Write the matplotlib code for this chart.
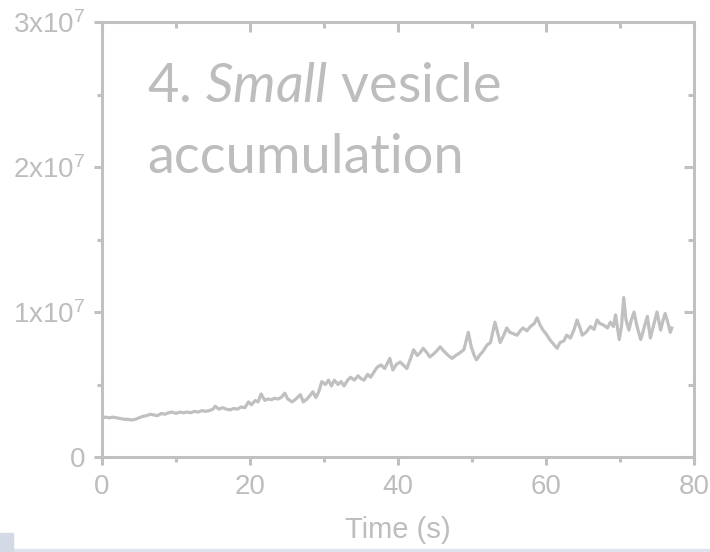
import matplotlib
matplotlib.use("Agg")
import matplotlib.pyplot as plt
from matplotlib.patches import Rectangle
from matplotlib.ticker import MultipleLocator, FuncFormatter

GREY = "#c0c0c0"
TEXT_GREY = "#bdbdbd"

# fluorescence trace, time in s, intensity in units of 1e6
time_s = [
    0, 0.5, 1, 1.5, 2, 2.5, 3, 3.5, 4, 4.5, 5, 5.5, 6, 6.5, 7, 7.5, 8, 8.5, 9, 9.5,
    10, 10.5, 11, 11.5, 12, 12.5, 13, 13.5, 14, 14.5, 15, 15.3, 15.8, 16.3, 16.8,
    17.3, 17.8, 18.3, 18.8, 19.3, 19.8, 20.2, 20.7, 21.1, 21.5, 22, 22.4, 22.9,
    23.3, 23.8, 24.2, 24.7, 25.1, 25.7, 26.2, 26.8, 27.2, 27.7, 28.2, 28.5, 28.9,
    29.3, 29.7, 30.2, 30.6, 31.0, 31.4, 31.9, 32.3, 32.7, 33.2, 33.6, 34.1, 34.6,
    35.0, 35.4, 35.9, 36.3, 36.8, 37.2, 37.7, 38.2, 38.6, 38.9, 39.3, 39.8, 40.3,
    40.8, 41.2, 41.7, 42.1, 42.6, 43.0, 43.4, 43.9, 44.3, 44.8, 45.2, 45.7, 46.2,
    46.8, 47.3, 47.8, 48.4, 48.9, 49.2, 49.5, 49.9, 50.3, 50.6, 51.0, 51.5, 52.0,
    52.5, 53.1, 53.5, 53.8, 54.2, 54.7, 55.1, 55.6, 56.1, 56.5, 56.9, 57.4, 57.9,
    58.4, 58.8, 59.2, 59.6, 60.0, 60.5, 61.0, 61.5, 61.9, 62.4, 62.8, 63.3, 63.8,
    64.2, 64.6, 64.9, 65.4, 66.0, 66.5, 66.9, 67.3, 67.8, 68.3, 68.7, 69.1, 69.4,
    69.9, 70.2, 70.5, 70.8, 71.2, 71.5, 71.9, 72.3, 72.8, 73.2, 73.7, 74.1, 74.6,
    75.0, 75.5, 75.8, 76.1, 76.5, 76.8, 77.0,
]
intensity = [
    2.7, 2.75, 2.7, 2.75, 2.7, 2.65, 2.6, 2.6, 2.55, 2.6, 2.7, 2.8, 2.85, 2.95, 2.9,
    2.85, 3.0, 2.95, 3.05, 3.1, 3.0, 3.1, 3.05, 3.1, 3.05, 3.15, 3.1, 3.2, 3.15, 3.2,
    3.3, 3.5, 3.3, 3.4, 3.3, 3.25, 3.35, 3.3, 3.45, 3.4, 3.8, 3.6, 3.9, 3.8, 4.35,
    3.9, 4.0, 3.95, 4.05, 4.0, 4.1, 4.4, 4.0, 3.8, 4.0, 4.3, 3.8, 4.0, 4.3, 4.5, 4.1,
    4.5, 5.2, 5.0, 5.3, 4.9, 5.3, 5.0, 5.2, 4.9, 5.3, 5.5, 5.3, 5.6, 5.4, 5.3, 5.7,
    5.5, 5.9, 6.2, 6.35, 6.1, 6.5, 6.8, 6.0, 6.4, 6.55, 6.3, 6.1, 6.8, 7.4, 7.0, 7.2,
    7.5, 7.2, 6.9, 7.1, 7.3, 7.6, 7.3, 7.0, 6.8, 7.0, 7.2, 7.4, 8.0, 8.6, 7.6, 7.0,
    6.7, 7.0, 7.3, 7.7, 7.9, 9.3, 8.5, 7.9, 8.3, 8.9, 8.6, 8.5, 8.4, 8.7, 8.9, 8.7,
    9.0, 9.2, 9.6, 9.1, 8.75, 8.5, 8.1, 7.8, 7.5, 7.9, 8.0, 8.4, 8.2, 8.8, 9.45, 8.9,
    8.4, 8.6, 9.0, 8.8, 9.45, 9.2, 9.1, 8.9, 9.3, 9.0, 9.8, 8.1, 9.0, 11.0, 9.5,
    8.75, 9.4, 10.0, 9.0, 8.1, 8.8, 9.7, 8.2, 9.2, 10.0, 8.75, 9.4, 9.9, 9.2, 8.6,
    8.9,
]

X_TICKS = [0, 20, 40, 60, 80]
Y_TICKS = [0, 1e7, 2e7, 3e7]

plt.rcParams["font.family"] = ["Liberation Sans", "DejaVu Sans"]
plt.rcParams["mathtext.fontset"] = "custom"
plt.rcParams["mathtext.rm"] = "Lato"
plt.rcParams["mathtext.it"] = "Lato:italic"

fig = plt.figure(figsize=(7.1, 5.52), dpi=100)
ax = fig.add_axes([102 / 710, 1 - 457 / 552, 592 / 710, 435 / 552])

ax.plot(time_s, [v * 1e6 for v in intensity], color=GREY, lw=2.3,
        solid_joinstyle="round")

ax.set_xlim(0, 80)
ax.set_ylim(0, 3e7)
ax.set_xticks(X_TICKS)
ax.set_yticks(Y_TICKS)
ax.xaxis.set_minor_locator(MultipleLocator(10))
ax.yaxis.set_minor_locator(MultipleLocator(5e6))


def sci_label(v, pos):
    if v == 0:
        return "0"
    return r"$\mathregular{%dx10^{7}}$" % round(v / 1e7)


ax.yaxis.set_major_formatter(FuncFormatter(sci_label))

for s in ax.spines.values():
    s.set_color(GREY)
    s.set_linewidth(2.2)

ax.tick_params(which="major", direction="out", length=6, width=2.2,
               color=GREY, labelcolor=TEXT_GREY, labelsize=20, pad=6)
ax.tick_params(which="minor", direction="out", length=3.5, width=2.2, color=GREY)
ax.tick_params(axis="x", which="major", pad=6)

# mirrored ticks pointing inward on top and right
top = ax.secondary_xaxis("top")
top.set_xticks(X_TICKS)
top.xaxis.set_minor_locator(MultipleLocator(10))
top.tick_params(which="major", direction="in", length=7, width=2.2, color=GREY, labeltop=False)
top.tick_params(which="minor", direction="in", length=4, width=2.2, color=GREY)
top.spines["top"].set_visible(False)

right = ax.secondary_yaxis("right")
right.set_yticks(Y_TICKS)
right.yaxis.set_minor_locator(MultipleLocator(5e6))
right.tick_params(which="major", direction="in", length=7, width=2.2, color=GREY, labelright=False)
right.tick_params(which="minor", direction="in", length=4, width=2.2, color=GREY)
right.spines["right"].set_visible(False)

ax.set_xlabel("Time (s)", fontsize=21, color=TEXT_GREY, labelpad=12)

fig.text(147 / 710, 1 - 102 / 552, r"4. $\mathit{Small}$ vesicle", fontsize=39,
         family="Lato", color=TEXT_GREY, va="baseline", ha="left")
fig.text(147 / 710, 1 - 173 / 552, "accumulation", fontsize=39,
         family="Lato", color=TEXT_GREY, va="baseline", ha="left")

# pale strips along the lower edge
fig.patches.append(Rectangle((0, 0), 1, 3 / 552, transform=fig.transFigure,
                             color="#dfe3ec", zorder=-1))
fig.patches.append(Rectangle((0, 0), 13 / 710, 19 / 552, transform=fig.transFigure,
                             color="#d3d9e5", zorder=-1))

fig.savefig("out.png", dpi=100)
